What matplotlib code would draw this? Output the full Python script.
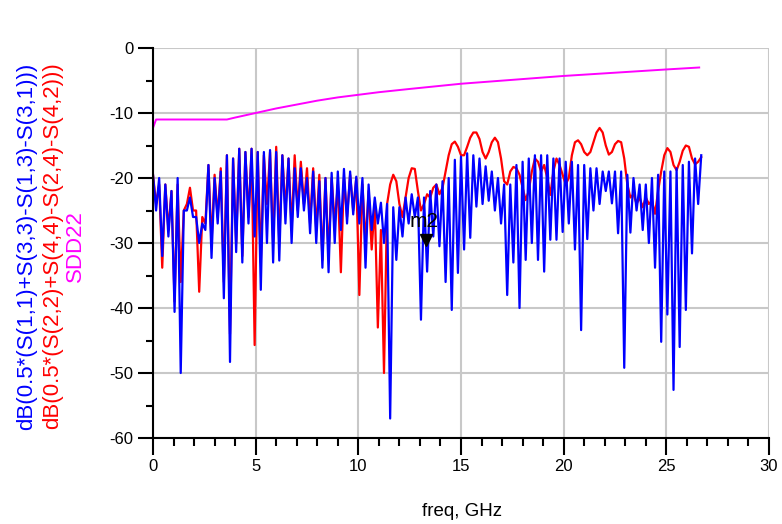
import numpy as np
import matplotlib
matplotlib.use('Agg')
import matplotlib.pyplot as plt
from matplotlib.ticker import MultipleLocator

plt.rcParams['font.family'] = ['Liberation Sans', 'DejaVu Sans']
plt.rcParams['axes.unicode_minus'] = False

# frequency sweep step (GHz), traces every step
F_STEP = 0.15

# blue trace: local maxima / minima, one pair per 0.3 GHz
blue_peak = [-19.5, -20, -21, -22, -20, -25, -23, -26, -27, -18, -20, -19, -16.5, -17, -15.5,
             -16, -15.5, -16, -16, -15.7, -16, -16.5, -17, -18.5, -18.5, -20, -19, -20.5, -20,
             -19.2, -19, -18.6, -19, -19.8, -20, -21, -23, -23.8, -24, -24.5, -24.5, -23, -22.5, -23,
             -23, -22, -21, -20.5, -20, -17.2, -16.7, -16.2, -16.5, -17, -18.2, -19, -20, -21, -21,
             -18, -17.5, -17, -16.5, -16.5, -16.5, -17, -17, -17.5, -17.5, -18, -18, -18.5, -18.5, -19, -19,
             -19, -19, -19.5, -20, -21, -21, -20, -19.5, -19, -19, -18.5, -18, -17.5, -17]
blue_dip = [-25, -32, -29, -40.6, -50, -25, -26, -30, -28, -32.3, -27, -38.5, -48.3, -31.4, -33,
            -27, -29, -37.2, -30, -33, -32.7, -27, -30, -26, -25, -28.5, -30, -33.8, -34.5,
            -30, -28, -27, -25.6, -27, -33.8, -28, -27, -30, -57, -32.6, -29, -27, -26, -41.8,
            -34.4, -29, -30.5, -36, -40.3, -34.6, -31, -29.2, -24.4, -24, -23.5, -25, -27, -38, -33,
            -40, -32.6, -30, -32.6, -34.4, -29.5, -29.5, -28.3, -27, -31, -43.4, -29.4, -25, -24, -22, -23.9,
            -28.5, -49.2, -28.4, -25, -28, -30, -33.8, -45.2, -41, -52.6, -46, -40.3, -31.6, -24]
blue_end = -16.5

# red trace, one value per sweep step
red_db = [-19.5, -24, -21, -33.8, -21, -28, -22, -39, -21, -36, -25, -24, -21.5, -25, -25,
          -37.5, -26, -27, -18, -30, -19.5, -26, -18.5, -36, -16.5, -44, -17, -30, -15.5, -32,
          -16, -26, -15.5, -45.7, -16, -33, -16.5, -24, -16, -30, -15.2, -30, -16.5, -25,
          -17, -28, -16.5, -25, -17.5, -24, -18.5, -27, -18.5, -28, -19.5, -32.6, -20, -32,
          -20, -27, -21, -34.5, -20, -26, -19.5, -25, -20, -38, -21, -30, -22, -31,
          -24, -43, -28, -50, -24, -21, -19.5, -20.5, -24, -26, -23, -20, -18.5, -18.6, -22, -25,
          -24, -22.5, -23, -21.5, -21, -22.5, -21.5, -19, -16.5, -14.8, -14.4, -15.2, -16.5, -16.5,
          -15.2, -13.8, -13, -13, -14, -16, -17, -16, -14.5, -13.8, -14.5, -17, -20.5, -21, -19, -18.3,
          -18.5, -19.5, -21.5, -23.4, -22, -19, -17, -17.5, -19, -18, -20, -22.6, -19, -17, -18, -19.5,
          -21, -20, -16.5, -14.5, -14.2, -14.8, -16, -16.5, -16, -14.5, -13, -12.3, -13, -15, -16.4, -16,
          -14.8, -14.3, -14.5, -17, -21, -23, -22.5, -24, -23, -24.5, -23, -24, -23.5, -25.5,
          -22, -19, -16.5, -15.4, -16, -18, -18.8, -17.5, -15.8, -15, -15.2, -17, -17.9, -17.5, -16.8]

sdd22_freq = [0, 0.15, 1, 2, 3, 3.6, 4, 5, 6, 7, 8, 9, 10, 11, 12.5, 15, 17.5, 20, 22.5, 25, 26.6]
sdd22_db = [-12.3, -11, -11, -11, -11, -11, -10.7, -10.0, -9.3, -8.7, -8.1, -7.6, -7.2, -6.8,
            -6.3, -5.5, -4.9, -4.3, -3.8, -3.3, -3.0]

m2_freq, m2_db = 13.3, -29.5

n = 2 * len(blue_peak) + 1
freq = np.arange(n) * F_STEP
blue = np.empty(n)
blue[0:-1:2] = blue_peak
blue[1:-1:2] = blue_dip
blue[-1] = blue_end
red = np.array(red_db)

W, H = 782, 524
fig = plt.figure(figsize=(W / 100, H / 100), dpi=100)
ax = fig.add_axes([153 / W, 1 - 438 / H, (769 - 153) / W, (438 - 48) / H])

ax.plot(freq, red, color='#ff0000', lw=1.6)
ax.plot(freq, blue, color='#0000ff', lw=1.6)
ax.plot(sdd22_freq, sdd22_db, color='#ff00ff', lw=1.4)
ax.plot([m2_freq], [m2_db], marker='v', color='black', ms=9, ls='none')
ax.text(m2_freq - 0.1, m2_db + 1.3, 'm2', fontsize=15, ha='center', va='bottom')

ax.set_xlim(0, 30)
ax.set_ylim(-60, 0)
ax.xaxis.set_major_locator(MultipleLocator(5))
ax.xaxis.set_minor_locator(MultipleLocator(1))
ax.yaxis.set_major_locator(MultipleLocator(10))
ax.yaxis.set_minor_locator(MultipleLocator(5))
ax.grid(True, which='major', color='#c8c8c8', lw=1.5)
ax.set_axisbelow(True)
for s in ['top', 'right']:
    ax.spines[s].set_visible(False)
for s in ['left', 'bottom']:
    ax.spines[s].set_linewidth(1.5)
ax.tick_params(axis='x', which='major', length=12, width=1.5, labelsize=12, pad=3)
ax.tick_params(axis='x', which='minor', length=6, width=1.5)
ax.tick_params(axis='y', which='major', length=11, width=1.5, labelsize=12, pad=3)
ax.tick_params(axis='y', which='minor', length=5, width=1.5)

fig.text(462 / W, 1 - 512 / H, 'freq, GHz', fontsize=13.5, ha='center', va='center')
yc = 1 - 246 / H
fig.text(27 / W, yc, 'dB(0.5*(S(1,1)+S(3,3)-S(1,3)-S(3,1)))', color='#0000ff',
         fontsize=16, rotation=90, ha='center', va='center')
fig.text(53 / W, yc, 'dB(0.5*(S(2,2)+S(4,4)-S(2,4)-S(4,2)))', color='#ff0000',
         fontsize=16, rotation=90, ha='center', va='center')
fig.text(75 / W, yc, 'SDD22', color='#ff00ff',
         fontsize=16, rotation=90, ha='center', va='center')

fig.savefig('out.png', dpi=100)
